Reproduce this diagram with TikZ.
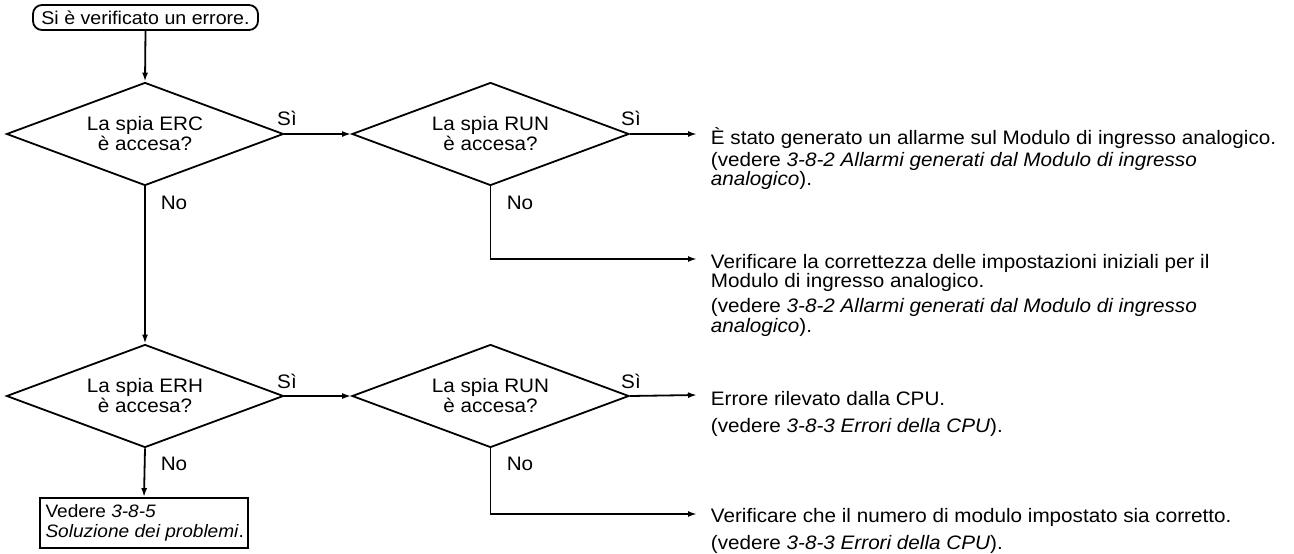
\documentclass[tikz,border=0pt]{standalone}
\usepackage{fontspec}
\setmainfont[FakeStretch=1.06]{Liberation Sans}
\usetikzlibrary{shapes.geometric,arrows.meta}
\begin{document}
\begin{tikzpicture}[x=1pt,y=-1pt,
  line width=1.8pt,
  every node/.style={font=\fontsize{19.5}{18.5}\selectfont},
  dec/.style={draw, shape=diamond, aspect=2.69, minimum width=277pt, minimum height=103pt,
    inner sep=0pt, align=center, font=\fontsize{19.5}{20}\selectfont},
  arr/.style={-{Latex[length=9pt,width=6pt]}},
  lbl/.style={inner sep=0pt},
  txt/.style={anchor=base west, inner sep=0pt}
]
\useasboundingbox (0,0) rectangle (1294,554);

% start terminal
\node[draw, rounded corners=9pt, minimum width=225pt, minimum height=25pt, inner sep=2pt,
  font=\fontsize{18.5}{18}\selectfont] (start) at (145.5,17.5) {Si è verificato un errore.};

% decisions
\node[dec] (d1) at (145,134) {La spia ERC\\è accesa?};
\node[dec] (d2) at (490.5,134) {La spia RUN\\è accesa?};
\node[dec] (d3) at (145,396) {La spia ERH\\è accesa?};
\node[dec] (d4) at (490.5,396) {La spia RUN\\è accesa?};

% end box
\node[draw, minimum width=208pt, minimum height=50pt, inner sep=0pt,
  font=\fontsize{18}{20}\selectfont] (box) at (144,523)
  {\makebox[197pt][l]{\begin{tabular}{@{}l@{}}Vedere \textit{3-8-5}\\\textit{Soluzione dei problemi}.\end{tabular}}};

% free ends
\coordinate (r1) at (697,134);
\coordinate (r2) at (697,259);
\coordinate (r3) at (697,395);
\coordinate (r4) at (697,514);

% connectors
\draw[arr] (start.south) -- (d1.north);
\draw[arr] (d1.east) -- (d2.west);
\draw[arr] (d2.east) -- (r1);
\draw[arr] (d2.south) |- (r2);
\draw[arr] (d1.south) -- (d3.north);
\draw[arr] (d3.east) -- (d4.west);
\draw[arr] (d4.east) -- (r3);
\draw[arr] (d4.south) |- (r4);
\draw[arr] (d3.south) -- (box.north);

% labels
\node[lbl] (s1) at (287,118) {Sì};
\node[lbl] (s2) at (631,118) {Sì};
\node[lbl] (s3) at (287,381) {Sì};
\node[lbl] (s4) at (631,381) {Sì};
\node[lbl] (n1) at (174,203) {No};
\node[lbl] (n2) at (520,203) {No};
\node[lbl] (n3) at (174,464) {No};
\node[lbl] (n4) at (520,464) {No};

% result texts
\node[txt] (t1) at (710,144) {\begin{tabular}[t]{@{}l@{}}È stato generato un allarme sul Modulo di ingresso analogico.\\[2.5pt]
(vedere \textit{3-8-2 Allarmi generati dal Modulo di ingresso}\\
\textit{analogico}).\end{tabular}};
\node[txt] (t2) at (710,268) {\begin{tabular}[t]{@{}l@{}}Verificare la correttezza delle impostazioni iniziali per il\\
Modulo di ingresso analogico.\\[5.5pt]
(vedere \textit{3-8-2 Allarmi generati dal Modulo di ingresso}\\
\textit{analogico}).\end{tabular}};
\node[txt] (t3) at (710,405) {\begin{tabular}[t]{@{}l@{}}Errore rilevato dalla CPU.\\[7.5pt]
(vedere \textit{3-8-3 Errori della CPU}).\end{tabular}};
\node[txt] (t4) at (710,522) {\begin{tabular}[t]{@{}l@{}}Verificare che il numero di modulo impostato sia corretto.\\[8pt]
(vedere \textit{3-8-3 Errori della CPU}).\end{tabular}};
\end{tikzpicture}
\end{document}
